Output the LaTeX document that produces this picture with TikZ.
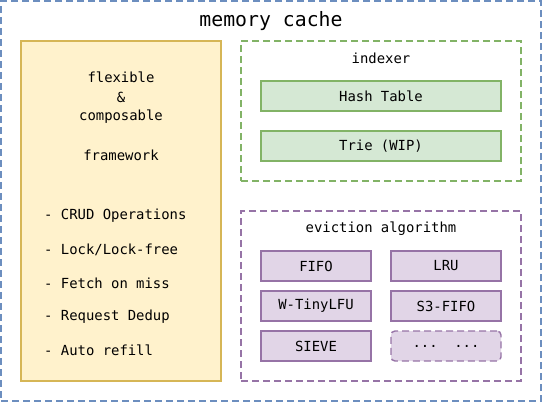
\documentclass[tikz,border=0pt]{standalone}
\usepackage{fontspec}
\setmonofont{DejaVu Sans Mono}
\definecolor{CacheBlue}{HTML}{6C8EBF}
\definecolor{FrameFill}{HTML}{FFF2CC}
\definecolor{FrameLine}{HTML}{D6B656}
\definecolor{IdxFill}{HTML}{D5E8D4}
\definecolor{IdxLine}{HTML}{82B366}
\definecolor{EvFill}{HTML}{E1D5E7}
\definecolor{EvLine}{HTML}{9673A6}
\usetikzlibrary{positioning}

\begin{document}
\begin{tikzpicture}[
      x=1pt, y=-1pt,
      every node/.style={font=\ttfamily\fontsize{13.9}{16}\selectfont, inner sep=0pt},
      group/.style={draw, line width=1.4pt, dash pattern=on 7pt off 4pt},
      idxbox/.style={draw=IdxLine, fill=IdxFill, line width=1.4pt,
        minimum width=240pt, minimum height=30pt},
      evbox/.style={draw=EvLine, fill=EvFill, line width=1.4pt,
        minimum width=110pt, minimum height=30pt},
      item/.style={anchor=west}
    ]
    \useasboundingbox (0,0) rectangle (542,402);
    % outer container
    \node[group, draw=CacheBlue, minimum width=540pt, minimum height=400pt]
         (cache) at (271,201) {};
    \node[font=\ttfamily\fontsize{19.8}{22}\selectfont] (cachetitle) at (271,21)
         {memory cache};
    % framework
    \node[draw=FrameLine, fill=FrameFill, line width=1.4pt,
          minimum width=200pt, minimum height=340pt] (frame) at (121,211) {};
    \node (flex) at (121,77) {flexible};
    \node (amp) at (121,97) {\&};
    \node (comp) at (121,117) {composable};
    \node (fw) at (121,155) {framework};
    \node[item] (crud) at (44,216) {- CRUD Operations};
    \node[item] (lock) at (44,250) {- Lock/Lock-free};
    \node[item] (fetch) at (44,283) {- Fetch on miss};
    \node[item] (dedup) at (44,317) {- Request Dedup};
    \node[item] (refill) at (44,350) {- Auto refill};
    % indexer
    \node[group, draw=IdxLine, minimum width=280pt, minimum height=140pt]
         (indexer) at (381,111) {};
    \node (idxtitle) at (381,58) {indexer};
    \node[idxbox] (hash) at (381,96) {Hash Table};
    \node[idxbox] (trie) at (381,146) {Trie (WIP)};
    % eviction algorithm
    \node[group, draw=EvLine, minimum width=280pt, minimum height=170pt]
         (eviction) at (381,296) {};
    \node (evtitle) at (381,229) {eviction algorithm};
    \node[evbox] (fifo) at (316,266) {FIFO};
    \node[evbox] (lru) at (446,266) {LRU};
    \node[evbox] (wtiny) at (316,306) {W-TinyLFU};
    \node[evbox] (sthree) at (446,306) {S3-FIFO};
    \node[evbox] (sieve) at (316,346) {SIEVE};
    \node[evbox, rounded corners=4pt, dash pattern=on 7pt off 4pt]
         (more) at (446,346) {...\ \ ...};
  \end{tikzpicture}
\end{document}
